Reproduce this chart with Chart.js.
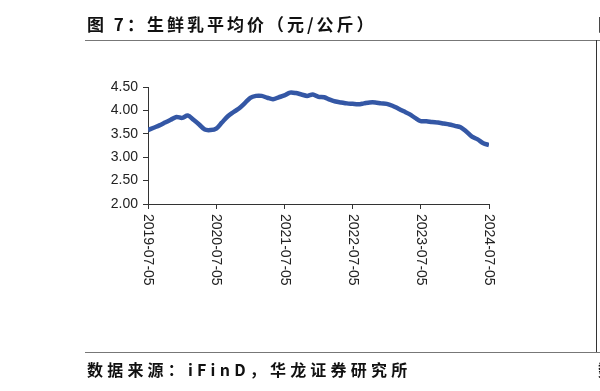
<!DOCTYPE html>
<html>
<head>
<meta charset="utf-8">
<script src="https://cdn.jsdelivr.net/npm/chart.js@4"></script>
<style>
  html, body { margin: 0; padding: 0; background: #fff; }
  body { width: 600px; height: 391px; position: relative; overflow: hidden; }
  #chart { position: absolute; left: 0; top: 0; }
  .cn { position: absolute; font-family: "Noto Sans CJK SC", sans-serif; font-weight: 700; color: #111; white-space: nowrap; }
  .hline { position: absolute; height: 0; border-top: 1.5px solid #777; }
  .vline { position: absolute; width: 0; border-left: 1px solid #333; }
</style>
</head>
<body>
<canvas id="chart" width="600" height="391"></canvas>
<div class="cn" style="left:87px; top:11px; font-size:17px; letter-spacing:3px;">图 7：生鲜乳平均价（元/公斤）</div>
<div class="cn" style="left:598px; top:11px; font-size:17px;">图</div>
<div class="hline" style="left:85px; top:40px; width:515px;"></div>
<div class="vline" style="left:596px; top:40px; height:313px;"></div>
<div class="hline" style="left:85px; top:352px; width:515px;"></div>
<div class="cn" style="left:87px; top:357px; font-size:16px; letter-spacing:4.2px;">数据来源：iFinD，华龙证券研究所</div>
<div class="cn" style="left:598px; top:357px; font-size:16px;">数</div>
<script>
// 月份序号（0 = 2019-07）
const months = [
  0, 1, 2, 3, 4, 5, 6, 7, 8, 9, 10, 11, 12, 13, 14, 15, 16, 17, 18, 19, 20,
  21, 22, 23, 24, 25, 26, 27, 28, 29, 30, 31, 32, 33, 34, 35, 36, 37, 38, 39, 40,
  41, 42, 43, 44, 45, 46, 47, 48, 49, 50, 51, 52, 53, 54, 55, 56, 57, 58, 59, 60
];
// 生鲜乳平均价（元/公斤）
const prices = [
  3.58, 3.63, 3.68, 3.74, 3.80, 3.86, 3.84, 3.89, 3.80, 3.70, 3.59, 3.58, 3.61,
  3.74, 3.87, 3.96, 4.04, 4.15, 4.27, 4.31, 4.31, 4.27, 4.24, 4.28, 4.32, 4.38,
  4.37, 4.34, 4.31, 4.34, 4.29, 4.28, 4.23, 4.19, 4.17, 4.15, 4.14, 4.13, 4.15,
  4.17, 4.17, 4.15, 4.14, 4.10, 4.04, 3.98, 3.92, 3.84, 3.77, 3.77, 3.75, 3.74,
  3.72, 3.70, 3.67, 3.64, 3.55, 3.44, 3.38, 3.30, 3.26
];
const tickMonths = [0, 12, 24, 36, 48, 60];
const tickLabels = ['2019-07-05', '2020-07-05', '2021-07-05', '2022-07-05', '2023-07-05', '2024-07-05'];

// x轴标签顺时针旋转90度绘制
const xLabelPlugin = {
    id: 'xLabels',
    afterDraw(chart) {
        const scale = chart.scales.x;
        const ctx = chart.ctx;
        ctx.save();
        ctx.font = '14px "Liberation Sans", Arial, sans-serif';
        ctx.fillStyle = '#222';
        ctx.textAlign = 'left';
        ctx.textBaseline = 'middle';
        tickMonths.forEach((m, i) => {
            const x = scale.getPixelForValue(m);
            ctx.save();
            ctx.translate(x, scale.top + 10);
            ctx.rotate(Math.PI / 2);
            ctx.fillText(tickLabels[i], 0, 0);
            ctx.restore();
        });
        ctx.restore();
    }
};

new Chart(document.getElementById('chart'), {
    type: 'line',
    data: {
        datasets: [{
            data: months.map((m, i) => ({ x: m, y: prices[i] })),
            borderColor: '#3457a5',
            borderWidth: 4.5,
            pointRadius: 0,
            tension: 0.3,
            fill: false
        }]
    },
    options: {
        responsive: false,
        animation: false,
        layout: { padding: { top: 87, right: 111, left: 0, bottom: 0 } },
        plugins: {
            legend: { display: false },
            tooltip: { enabled: false }
        },
        scales: {
            x: {
                type: 'linear',
                min: 0,
                max: 60,
                afterBuildTicks: (scale) => {
                    scale.ticks = tickMonths.map(v => ({ value: v }));
                },
                afterFit: (scale) => { scale.height = 187; },
                border: { color: '#333', width: 1 },
                grid: { drawOnChartArea: false, drawTicks: true, tickLength: 5, color: '#333' },
                ticks: { color: 'rgba(0,0,0,0)', maxRotation: 0, autoSkip: false }
            },
            y: {
                min: 2,
                max: 4.5,
                afterFit: (scale) => { scale.width = 148; },
                border: { color: '#333', width: 1 },
                grid: { drawOnChartArea: false, drawTicks: true, tickLength: 5, color: '#333' },
                ticks: {
                    stepSize: 0.5,
                    padding: 5,
                    color: '#222',
                    font: { family: '"Liberation Sans", Arial, sans-serif', size: 14 },
                    callback: (v) => Number(v).toFixed(2)
                }
            }
        }
    },
    plugins: [xLabelPlugin]
});
</script>
</body>
</html>
